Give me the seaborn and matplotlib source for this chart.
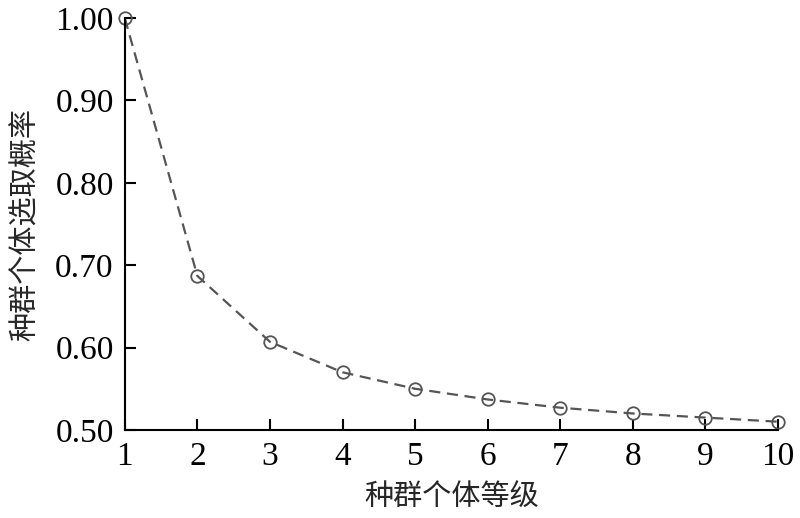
import pandas as pd
import matplotlib
matplotlib.use('Agg')
import matplotlib.pyplot as plt
import seaborn as sns

# Data
ranks = [1, 2, 3, 4, 5, 6, 7, 8, 9, 10]
probs = [1.000, 0.687, 0.607, 0.570, 0.550, 0.537, 0.527, 0.520, 0.515, 0.510]
y_ticks = [0.50, 0.60, 0.70, 0.80, 0.90, 1.00]

df = pd.DataFrame({'rank': ranks, 'prob': probs})

sns.set_theme(style='ticks')
plt.rcParams['font.family'] = ['Liberation Serif', 'Noto Sans CJK SC']

fig = plt.figure(figsize=(8, 5.18), dpi=100)
ax = fig.add_axes([0.156, 0.170, 0.8165, 0.795])

sns.lineplot(data=df, x='rank', y='prob', ax=ax, color='#555555',
             linewidth=1.6, dashes=False, marker='o', markersize=9,
             markerfacecolor='none', markeredgecolor='#555555',
             markeredgewidth=1.3, clip_on=False)
ax.lines[0].set_dashes([5, 3])

ax.set_xlim(1, 10)
ax.set_ylim(0.5, 1.0)
ax.set_xticks(ranks)
ax.set_yticks(y_ticks)
ax.set_yticklabels([f'{v:.2f}' for v in y_ticks])
ax.tick_params(direction='in', length=8, width=1.5, labelsize=24, colors='black', pad=8)
for s in ['top', 'right']:
    ax.spines[s].set_visible(False)
for s in ['left', 'bottom']:
    ax.spines[s].set_linewidth(1.5)
    ax.spines[s].set_color('black')

cjk = ['Noto Sans CJK SC', 'DejaVu Sans']
ax.set_xlabel('种群个体等级', fontsize=21, family=cjk, labelpad=8)
ax.set_ylabel('种群个体选取概率', fontsize=21, family=cjk, labelpad=10)

fig.savefig('out.png', dpi=100)
